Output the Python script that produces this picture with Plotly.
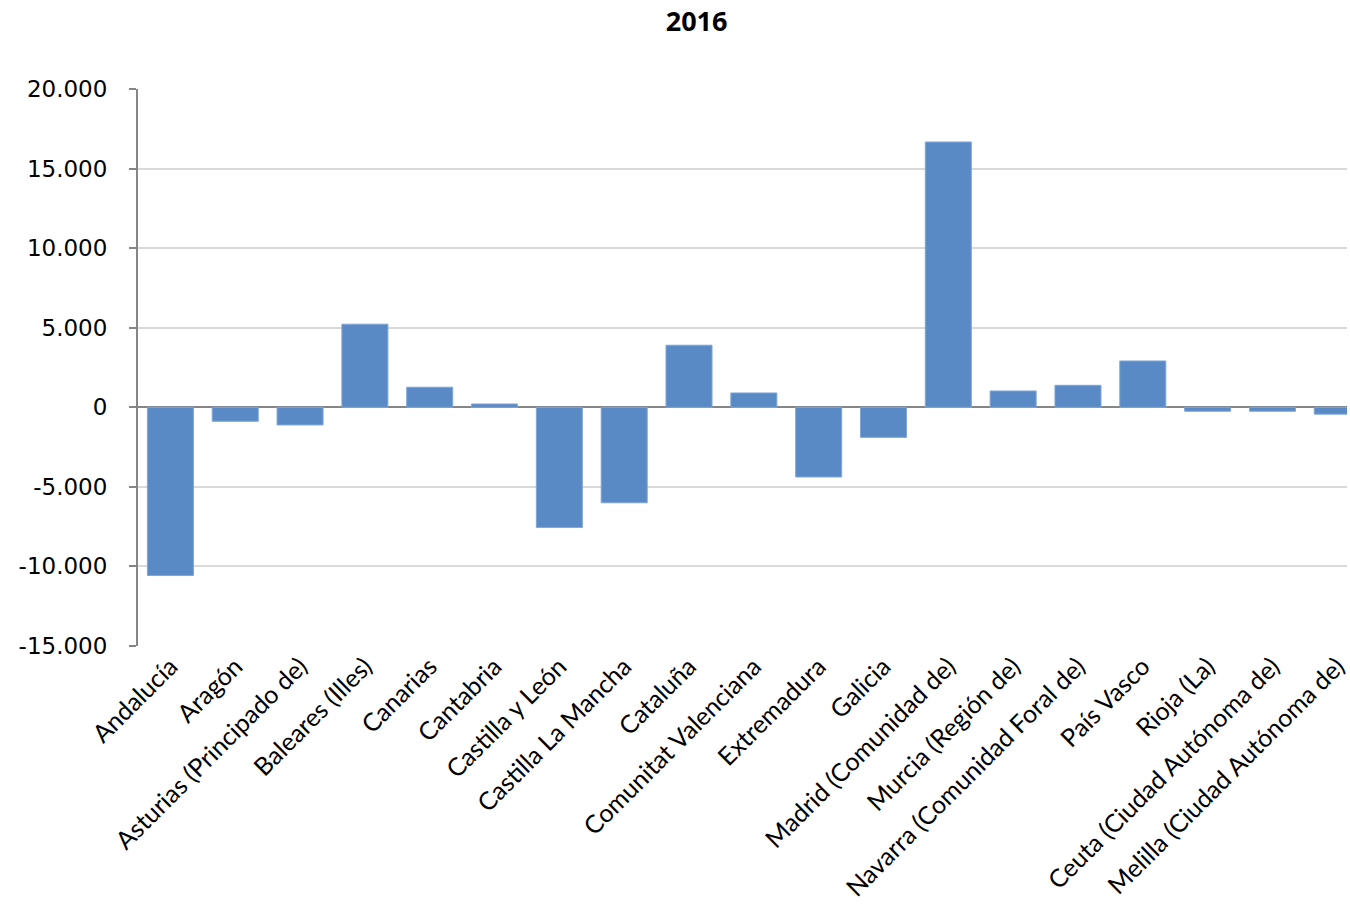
import plotly.graph_objects as go

title_text = "2016"
categories = [
    "Andalucía", "Aragón", "Asturias (Principado de)", "Baleares (Illes)",
    "Canarias", "Cantabria", "Castilla y León", "Castilla La Mancha",
    "Cataluña", "Comunitat Valenciana", "Extremadura", "Galicia",
    "Madrid (Comunidad de)", "Murcia (Región de)", "Navarra (Comunidad Foral de)",
    "País Vasco", "Rioja (La)", "Ceuta (Ciudad Autónoma de)", "Melilla (Ciudad Autónoma de)",
]
values = [
    -10570, -880, -1110, 5220,
    1260, 210, -7550, -6000,
    3900, 900, -4380, -1890,
    16670, 1025, 1380,
    2910, -250, -250, -430,
]
y_tickvals = [-15000, -10000, -5000, 0, 5000, 10000, 15000, 20000]
y_ticktext = ["-15.000", "-10.000", "-5.000", "0", "5.000", "10.000", "15.000", "20.000"]

fig = go.Figure(
    go.Bar(
        x=categories,
        y=values,
        marker=dict(color="#5A8AC6", line=dict(color="#7FA6D6", width=1)),
        width=0.71,
    )
)

fig.update_layout(
    width=1350,
    height=904,
    paper_bgcolor="white",
    plot_bgcolor="white",
    margin=dict(l=138, r=0, t=89, b=258),
    showlegend=False,
    title=dict(
        text="<b>%s</b>" % title_text,
        x=0.516,
        xanchor="center",
        y=0.976,
        yanchor="middle",
        font=dict(family="Open Sans", size=27, color="black"),
    ),
)

fig.update_xaxes(
    type="category",
    range=[-0.5, 18.15],
    tickangle=-45,
    tickfont=dict(family="Lato", size=25, color="black"),
    showgrid=False,
    showline=False,
    ticks="",
    zeroline=False,
)

fig.update_yaxes(
    range=[-15000, 20000],
    tickvals=y_tickvals,
    ticktext=y_ticktext,
    tickfont=dict(family="DejaVu Sans", size=23, color="black"),
    showgrid=True,
    gridcolor="#D9D9D9",
    gridwidth=2,
    zeroline=True,
    zerolinecolor="#868686",
    zerolinewidth=2,
    showline=True,
    linecolor="#868686",
    linewidth=2,
    ticks="outside",
    ticklen=7,
    tickcolor="#868686",
    tickwidth=2,
    ticklabelstandoff=17,
)

fig.write_html(
    "out.html",
    config={"displayModeBar": False},
    post_script="document.body.style.margin='0';document.body.style.overflow='hidden';",
)
